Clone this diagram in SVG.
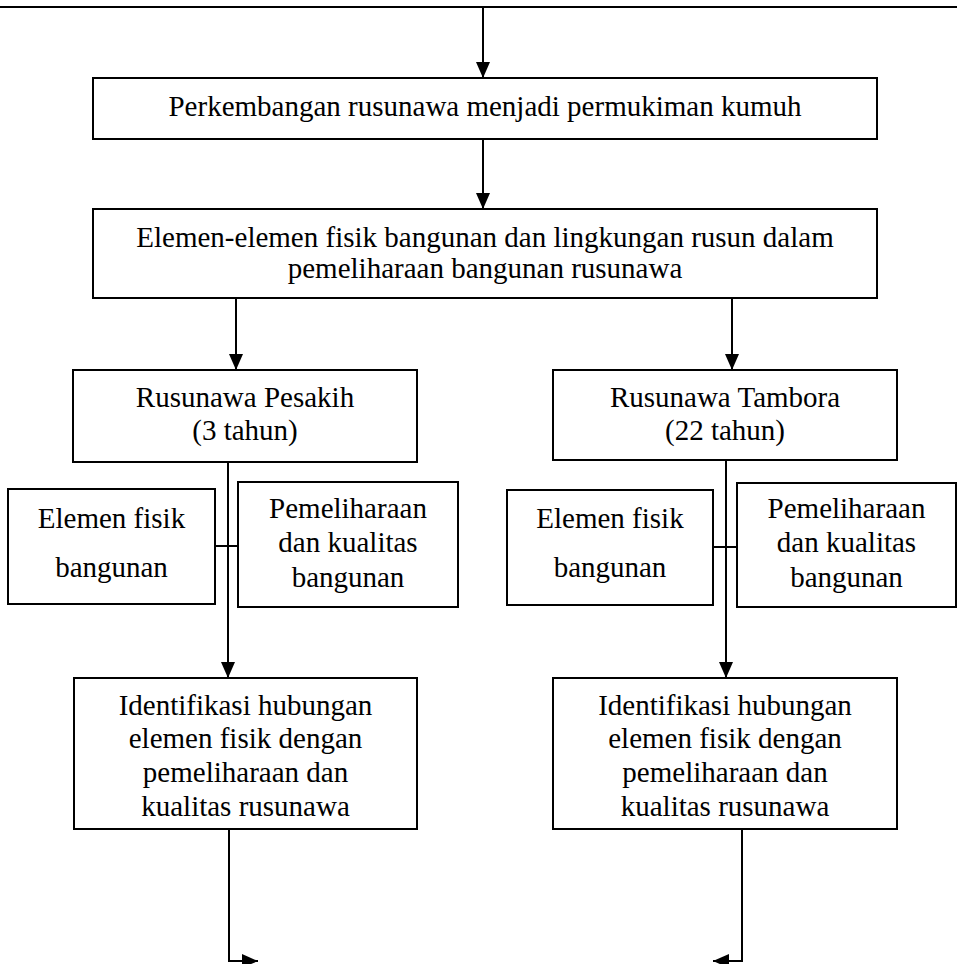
<svg xmlns="http://www.w3.org/2000/svg" width="957" height="964" viewBox="0 0 957 964">
<style>
  .box { fill: #fff; stroke: #000; stroke-width: 2; }
  .ln { fill: none; stroke: #000; stroke-width: 2; }
  .arr { fill: none; stroke: #000; stroke-width: 2; marker-end: url(#ah); }
  text { font-family: "Liberation Serif", "Times New Roman", serif; font-size: 29px; fill: #000; text-anchor: middle; }
</style>
<defs>
  <marker id="ah" markerUnits="userSpaceOnUse" markerWidth="17" markerHeight="15" refX="16" refY="7" orient="auto">
    <path d="M0,0 L16,7 L0,14 z" fill="#000"/>
  </marker>
</defs>
<rect width="957" height="964" fill="#fff"/>
<g id="connectors">
  <line class="ln" x1="0" y1="7" x2="957" y2="7"/>
  <line class="arr" x1="483" y1="7" x2="483" y2="78"/>
  <line class="arr" x1="483" y1="139" x2="483" y2="209"/>
  <line class="arr" x1="236" y1="298" x2="236" y2="370"/>
  <line class="arr" x1="732" y1="298" x2="732" y2="370"/>
  <line class="arr" x1="228" y1="462" x2="228" y2="678"/>
  <line class="ln" x1="215" y1="546" x2="238" y2="546"/>
  <line class="arr" x1="726" y1="460" x2="726" y2="678"/>
  <line class="ln" x1="713" y1="547" x2="737" y2="547"/>
  <path class="arr" d="M229,829 V961 H258"/>
  <path class="arr" d="M742,829 V961 H713"/>
</g>
<g id="n1">
  <rect class="box" x="93" y="78" width="784" height="61"/>
  <text x="485" y="116">Perkembangan rusunawa menjadi permukiman kumuh</text>
</g>
<g id="n2">
  <rect class="box" x="93" y="209" width="784" height="89"/>
  <text x="485" y="247">Elemen-elemen fisik bangunan dan lingkungan rusun dalam</text>
  <text x="485" y="278">pemeliharaan bangunan rusunawa</text>
</g>
<g id="pesakih">
  <rect class="box" x="73" y="370" width="344" height="92"/>
  <text x="245" y="407">Rusunawa Pesakih</text>
  <text x="245" y="440">(3 tahun)</text>
</g>
<g id="tambora">
  <rect class="box" x="553" y="370" width="344" height="90"/>
  <text x="725" y="407">Rusunawa Tambora</text>
  <text x="725" y="440">(22 tahun)</text>
</g>
<g id="p-elemen">
  <rect class="box" x="8" y="489" width="207" height="115"/>
  <text x="111.5" y="528">Elemen fisik</text>
  <text x="111.5" y="577">bangunan</text>
</g>
<g id="p-pemeliharaan">
  <rect class="box" x="238" y="482" width="220" height="125"/>
  <text x="348" y="518">Pemeliharaan</text>
  <text x="348" y="552">dan kualitas</text>
  <text x="348" y="587">bangunan</text>
</g>
<g id="t-elemen">
  <rect class="box" x="507" y="490" width="206" height="115"/>
  <text x="610" y="528">Elemen fisik</text>
  <text x="610" y="577">bangunan</text>
</g>
<g id="t-pemeliharaan">
  <rect class="box" x="737" y="483" width="219" height="124"/>
  <text x="846.5" y="518">Pemeliharaan</text>
  <text x="846.5" y="552">dan kualitas</text>
  <text x="846.5" y="587">bangunan</text>
</g>
<g id="p-identifikasi">
  <rect class="box" x="74" y="678" width="343" height="151"/>
  <text x="245.5" y="715">Identifikasi hubungan</text>
  <text x="245.5" y="748">elemen fisik dengan</text>
  <text x="245.5" y="782">pemeliharaan dan</text>
  <text x="245.5" y="816">kualitas rusunawa</text>
</g>
<g id="t-identifikasi">
  <rect class="box" x="553" y="678" width="344" height="151"/>
  <text x="725" y="715">Identifikasi hubungan</text>
  <text x="725" y="748">elemen fisik dengan</text>
  <text x="725" y="782">pemeliharaan dan</text>
  <text x="725" y="816">kualitas rusunawa</text>
</g>
</svg>
